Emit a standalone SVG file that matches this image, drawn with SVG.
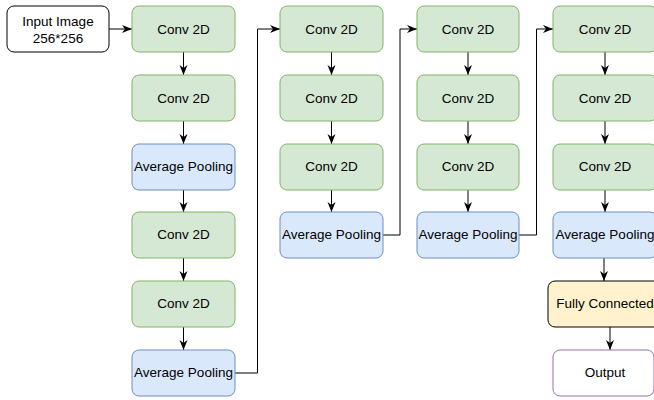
<svg xmlns="http://www.w3.org/2000/svg" width="654" height="400" viewBox="0 0 654 400">
  <defs>
    <marker id="arr" viewBox="0 0 10 10" refX="10" refY="5" markerWidth="10" markerHeight="10" markerUnits="userSpaceOnUse" orient="auto">
      <path d="M0,1 L10,5 L0,9 L3,5 z" fill="#000"/>
    </marker>
  </defs>
  <style>
    rect { stroke-width: 1; }
    .conv { fill: #d5e8d4; stroke: #82b366; }
    .pool { fill: #dae8fc; stroke: #6c8ebf; }
    .fc { fill: #fff2cc; stroke: #000000; }
    .out { fill: #ffffff; stroke: #9673a6; }
    .inp { fill: #ffffff; stroke: #000000; }
    text { font-family: "Liberation Sans", Arial, sans-serif; font-size: 13.5px; fill: #000; text-anchor: middle; }
    .edge { fill: none; stroke: #000; stroke-width: 1; marker-end: url(#arr); }
  </style>
  <rect width="654" height="400" fill="#ffffff"/>

  <g id="connectors">
    <path class="edge" d="M109,29 H132"/>
    <path class="edge" d="M183.5,52 V75"/>
    <path class="edge" d="M183.5,121 V144"/>
    <path class="edge" d="M183.5,190 V212"/>
    <path class="edge" d="M183.5,258 V281"/>
    <path class="edge" d="M183.5,327 V350"/>
    <path class="edge" d="M235,373 H257.5 V29 H280"/>
    <path class="edge" d="M331.5,52 V75"/>
    <path class="edge" d="M331.5,121 V144"/>
    <path class="edge" d="M331.5,190 V212"/>
    <path class="edge" d="M383,235 H400 V29 H417"/>
    <path class="edge" d="M468,52 V75"/>
    <path class="edge" d="M468,121 V144"/>
    <path class="edge" d="M468,190 V212"/>
    <path class="edge" d="M519,235 H536.5 V29 H553"/>
    <path class="edge" d="M605,52 V75"/>
    <path class="edge" d="M605,121 V144"/>
    <path class="edge" d="M605,190 V212"/>
    <path class="edge" d="M604,258 V281"/>
    <path class="edge" d="M610,327 V350"/>
  </g>

  <g id="input"><rect class="inp" x="7" y="6" width="102" height="46" rx="7"/><text x="58" y="26">Input Image</text><text x="58" y="42.5">256*256</text></g>

  <g id="c1r1"><rect class="conv" x="132" y="6" width="103" height="46" rx="7"/><text x="183.5" y="33.5">Conv 2D</text></g>
  <g id="c1r2"><rect class="conv" x="132" y="75" width="103" height="46" rx="7"/><text x="183.5" y="102.5">Conv 2D</text></g>
  <g id="c1r3"><rect class="pool" x="132" y="144" width="103" height="46" rx="7"/><text x="183.5" y="171">Average Pooling</text></g>
  <g id="c1r4"><rect class="conv" x="132" y="212" width="103" height="46" rx="7"/><text x="183.5" y="239">Conv 2D</text></g>
  <g id="c1r5"><rect class="conv" x="132" y="281" width="103" height="46" rx="7"/><text x="183.5" y="308">Conv 2D</text></g>
  <g id="c1r6"><rect class="pool" x="132" y="350" width="103" height="46" rx="7"/><text x="183.5" y="377">Average Pooling</text></g>

  <g id="c2r1"><rect class="conv" x="280" y="6" width="103" height="46" rx="7"/><text x="331.5" y="33.5">Conv 2D</text></g>
  <g id="c2r2"><rect class="conv" x="280" y="75" width="103" height="46" rx="7"/><text x="331.5" y="102.5">Conv 2D</text></g>
  <g id="c2r3"><rect class="conv" x="280" y="144" width="103" height="46" rx="7"/><text x="331.5" y="171">Conv 2D</text></g>
  <g id="c2r4"><rect class="pool" x="280" y="212" width="103" height="46" rx="7"/><text x="331.5" y="239">Average Pooling</text></g>

  <g id="c3r1"><rect class="conv" x="417" y="6" width="102" height="46" rx="7"/><text x="468" y="33.5">Conv 2D</text></g>
  <g id="c3r2"><rect class="conv" x="417" y="75" width="102" height="46" rx="7"/><text x="468" y="102.5">Conv 2D</text></g>
  <g id="c3r3"><rect class="conv" x="417" y="144" width="102" height="46" rx="7"/><text x="468" y="171">Conv 2D</text></g>
  <g id="c3r4"><rect class="pool" x="417" y="212" width="102" height="46" rx="7"/><text x="468" y="239">Average Pooling</text></g>

  <g id="c4r1"><rect class="conv" x="553" y="6" width="104" height="46" rx="7"/><text x="605" y="33.5">Conv 2D</text></g>
  <g id="c4r2"><rect class="conv" x="553" y="75" width="104" height="46" rx="7"/><text x="605" y="102.5">Conv 2D</text></g>
  <g id="c4r3"><rect class="conv" x="553" y="144" width="104" height="46" rx="7"/><text x="605" y="171">Conv 2D</text></g>
  <g id="c4r4"><rect class="pool" x="553" y="212" width="104" height="46" rx="7"/><text x="605" y="239">Average Pooling</text></g>
  <g id="fc"><rect class="fc" x="548" y="281" width="124" height="46" rx="7"/><text x="605" y="308">Fully Connected</text></g>
  <g id="output"><rect class="out" x="553" y="350" width="101" height="46" rx="7"/><text x="605" y="377">Output</text></g>
</svg>
